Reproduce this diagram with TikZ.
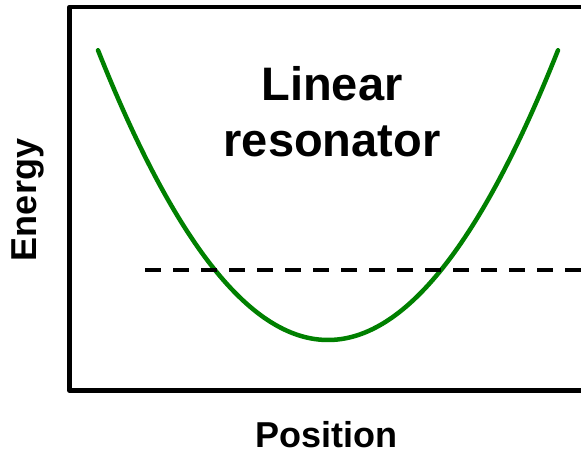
\documentclass[tikz,border=0pt]{standalone}
\usepackage{fontspec}
\setmainfont{Liberation Sans}
\usepackage{xcolor}
\definecolor{curvegreen}{RGB}{0,128,0}

\begin{document}
\begin{tikzpicture}[
  x=1pt, y=-1pt,
  every node/.style={font=\bfseries},
  frame/.style={line width=4.5pt, line join=round},
  well/.style={curvegreen, line width=4.5pt, line cap=round},
  level/.style={line width=3.5pt, dash pattern=on 16pt off 12pt},
  axislabel/.style={font=\fontsize{36}{40}\selectfont\bfseries},
  title/.style={font=\fontsize{47}{56}\selectfont\bfseries, align=center},
]
  \useasboundingbox (0,0) rectangle (581,454);

  % frame, right side runs off the page
  \draw[frame] (69.5,7) rectangle (583,390.5);

  % potential well
  \draw[well] plot[domain=98:558, samples=120, smooth]
        (\x, {340-0.00548*(\x-328)*(\x-328)});

  % energy level
  \coordinate (lvlstart) at (145,270);
  \coordinate (lvlend)   at (585,270);
  \draw[level] (lvlstart) -- (lvlend);

  \node[title] (name) at (332,112) {Linear\\resonator};

  \node[axislabel, anchor=base, inner sep=0pt] (xlabel) at (326,447) {Position};
  \node[axislabel, rotate=90] (ylabel) at (28,200) {Energy};
\end{tikzpicture}
\end{document}
